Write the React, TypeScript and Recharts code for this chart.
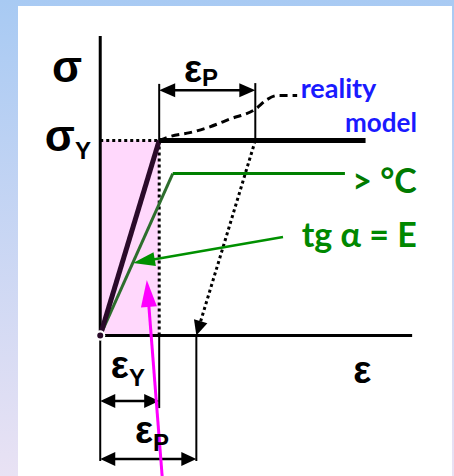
import { ComposedChart, Line, XAxis, YAxis, ReferenceArea, ReferenceLine, ReferenceDot } from 'recharts';

// strain measured in units of the yield strain, stress in units of the yield stress
const EPS_Y = 1;
const SIG_Y = 1;
const EPS_P = 1.63;
const EPS_END = 4.5;

const elastic = [{ e: 0, s: 0 }, { e: EPS_Y, s: SIG_Y }];
const plateau = [{ e: EPS_Y, s: SIG_Y }, { e: EPS_END, s: SIG_Y }];
const hotElastic = [{ e: 0, s: 0 }, { e: 1.23, s: 0.83 }];
const hotPlateau = [{ e: 1.23, s: 0.83 }, { e: 4.15, s: 0.83 }];
const reality = [
  { e: 1, s: 1 },
  { e: 1.18, s: 1.02 },
  { e: 1.52, s: 1.04 },
  { e: 1.86, s: 1.07 },
  { e: 2.2, s: 1.11 },
  { e: 2.63, s: 1.16 },
  { e: 2.83, s: 1.21 },
  { e: 3.0, s: 1.23 },
  { e: 3.34, s: 1.23 },
];
const labels = { sigma: 'σ', eps: 'ε', yieldSub: 'Y', plasticSub: 'P', reality: 'reality', model: 'model', hot: '> °C', modulus: 'tg α = E' };

const GREEK = '"Liberation Sans", Arial, sans-serif';
const LATIN = 'Lato, "Open Sans", sans-serif';

type ArrowOpts = { color: string; width: number; len: number; half: number; both?: boolean; dash?: string };

const arrow = (o: ArrowOpts) => (p: any) => {
  const { x1, y1, x2, y2 } = p;
  const dx = x2 - x1;
  const dy = y2 - y1;
  const d = Math.hypot(dx, dy) || 1;
  const ux = dx / d;
  const uy = dy / d;
  const head = (tx: number, ty: number, sx: number, sy: number) => {
    const bx = tx - sx * o.len;
    const by = ty - sy * o.len;
    return `${tx},${ty} ${bx - sy * o.half},${by + sx * o.half} ${bx + sy * o.half},${by - sx * o.half}`;
  };
  const sx1 = o.both ? x1 + ux * o.len * 0.8 : x1;
  const sy1 = o.both ? y1 + uy * o.len * 0.8 : y1;
  return (
    <g>
      <line x1={sx1} y1={sy1} x2={x2 - ux * o.len * 0.8} y2={y2 - uy * o.len * 0.8} stroke={o.color} strokeWidth={o.width} strokeDasharray={o.dash} />
      <polygon points={head(x2, y2, ux, uy)} fill={o.color} />
      {o.both && <polygon points={head(x1, y1, -ux, -uy)} fill={o.color} />}
    </g>
  );
};

type TexOpts = { sub?: string; size: number; subSize?: number; dy?: number; color?: string; font?: string; anchor?: 'start' | 'end' | 'middle' };

const tex = (main: string, o: TexOpts) => (p: any) => (
  <text
    x={p.cx}
    y={p.cy}
    textAnchor={o.anchor || 'start'}
    fill={o.color || '#000'}
    fontFamily={o.font || GREEK}
    fontWeight="bold"
    fontSize={o.size}
  >
    {main}
    {o.sub && (
      <tspan dy={o.dy || 0} fontSize={o.subSize}>
        {o.sub}
      </tspan>
    )}
  </text>
);

export default function App() {
  return (
    <div
      style={{
        position: 'absolute',
        left: 0,
        top: 0,
        width: 454,
        height: 476,
        background: 'linear-gradient(to bottom, #a8caf3, #e9e2f4)',
      }}
    >
      <div style={{ position: 'absolute', left: 18, top: 6, width: 434, height: 470, background: '#fff' }} />
      <div style={{ position: 'absolute', left: 0, top: 0 }}>
        <ComposedChart width={454} height={476} margin={{ top: 0, right: 0, bottom: 0, left: 0 }}>
          <XAxis type="number" dataKey="e" domain={[-1.7, 6]} allowDataOverflow hide />
          <YAxis type="number" dataKey="s" domain={[-0.72, 1.72]} allowDataOverflow hide />

          <ReferenceArea x1={0} x2={EPS_Y} y1={0} y2={SIG_Y} fill="#ffd8fc" fillOpacity={1} stroke="none" />

          {/* dotted guides and the unloading path */}
          <ReferenceLine segment={[{ x: 0, y: SIG_Y }, { x: EPS_Y, y: SIG_Y }]} stroke="#000" strokeWidth={3} strokeDasharray="3 3" />
          <ReferenceLine segment={[{ x: EPS_Y, y: SIG_Y }, { x: EPS_Y, y: 0 }]} stroke="#000" strokeWidth={3} strokeDasharray="3 3" />
          <ReferenceLine
            segment={[{ x: EPS_Y + EPS_P, y: SIG_Y }, { x: EPS_P, y: 0 }]}
            shape={arrow({ color: '#000', width: 3, len: 15, half: 7, dash: '3 3' })}
          />

          {/* axes */}
          <ReferenceLine segment={[{ x: 0, y: 0 }, { x: 0, y: 1.535 }]} stroke="#000" strokeWidth={3} />
          <ReferenceLine segment={[{ x: 0, y: 0 }, { x: 5.29, y: 0 }]} stroke="#000" strokeWidth={3} />

          {/* dimension lines */}
          <ReferenceLine segment={[{ x: 0, y: 0 }, { x: 0, y: -0.643 }]} stroke="#000" strokeWidth={2} />
          <ReferenceLine segment={[{ x: EPS_Y, y: 0 }, { x: EPS_Y, y: -0.372 }]} stroke="#000" strokeWidth={2} />
          <ReferenceLine segment={[{ x: EPS_P, y: 0 }, { x: EPS_P, y: -0.643 }]} stroke="#000" strokeWidth={2} />
          <ReferenceLine segment={[{ x: EPS_Y, y: SIG_Y }, { x: EPS_Y, y: 1.29 }]} stroke="#000" strokeWidth={2} />
          <ReferenceLine segment={[{ x: EPS_Y + EPS_P, y: SIG_Y }, { x: EPS_Y + EPS_P, y: 1.294 }]} stroke="#000" strokeWidth={2} />
          <ReferenceLine
            segment={[{ x: EPS_Y, y: 1.258 }, { x: EPS_Y + EPS_P, y: 1.258 }]}
            shape={arrow({ color: '#000', width: 2.5, len: 16, half: 7, both: true })}
          />
          <ReferenceLine
            segment={[{ x: 0, y: -0.336 }, { x: EPS_Y, y: -0.336 }]}
            shape={arrow({ color: '#000', width: 2.5, len: 15, half: 7, both: true })}
          />
          <ReferenceLine
            segment={[{ x: 0, y: -0.633 }, { x: EPS_P, y: -0.633 }]}
            shape={arrow({ color: '#000', width: 2.5, len: 15, half: 7, both: true })}
          />

          {/* material curves */}
          <Line data={reality} dataKey="s" type="monotone" stroke="#000" strokeWidth={3} strokeDasharray="8 5" dot={false} isAnimationActive={false} />
          <Line data={hotElastic} dataKey="s" type="linear" stroke="#2d6e2d" strokeWidth={3} dot={false} isAnimationActive={false} />
          <Line data={hotPlateau} dataKey="s" type="linear" stroke="#008000" strokeWidth={3} dot={false} isAnimationActive={false} />
          <Line data={elastic} dataKey="s" type="linear" stroke="#2a0a2a" strokeWidth={5} dot={false} isAnimationActive={false} />
          <Line data={plateau} dataKey="s" type="linear" stroke="#000" strokeWidth={5} dot={false} isAnimationActive={false} />

          {/* pointers */}
          <ReferenceLine
            segment={[{ x: 3.1, y: 0.505 }, { x: 0.556, y: 0.372 }]}
            shape={arrow({ color: '#009000', width: 2.5, len: 22, half: 7 })}
          />
          <ReferenceLine
            segment={[{ x: 1.05, y: -0.72 }, { x: 0.79, y: 0.285 }]}
            shape={arrow({ color: '#ff00ff', width: 3, len: 27, half: 8 })}
          />

          {/* labels */}
          <ReferenceDot x={-0.563} y={1.3} r={0} shape={tex(labels.sigma, { size: 44, anchor: 'middle' })} />
          <ReferenceDot x={-0.94} y={0.946} r={0} shape={tex(labels.sigma, { sub: labels.yieldSub, size: 44, subSize: 24, dy: 8 })} />
          <ReferenceDot x={1.42} y={1.3} r={0} shape={tex(labels.eps, { sub: labels.plasticSub, size: 38, subSize: 24, dy: 4 })} />
          <ReferenceDot x={3.4} y={1.22} r={0} shape={tex(labels.reality, { size: 27, color: '#1a1aff', font: LATIN })} />
          <ReferenceDot x={5.37} y={1.043} r={0} shape={tex(labels.model, { size: 26, color: '#1a1aff', font: LATIN, anchor: 'end' })} />
          <ReferenceDot x={5.37} y={0.73} r={0} shape={tex(labels.hot, { size: 34, color: '#007a00', font: LATIN, anchor: 'end' })} />
          <ReferenceDot x={5.37} y={0.454} r={0} shape={tex(labels.modulus, { size: 34, color: '#008800', font: LATIN, anchor: 'end' })} />
          <ReferenceDot x={0.18} y={-0.218} r={0} shape={tex(labels.eps, { sub: labels.yieldSub, size: 38, subSize: 24, dy: 8 })} />
          <ReferenceDot x={0.59} y={-0.551} r={0} shape={tex(labels.eps, { sub: labels.plasticSub, size: 38, subSize: 24, dy: 8 })} />
          <ReferenceDot x={4.29} y={-0.243} r={0} shape={tex(labels.eps, { size: 38 })} />
        </ComposedChart>
      </div>
    </div>
  );
}
